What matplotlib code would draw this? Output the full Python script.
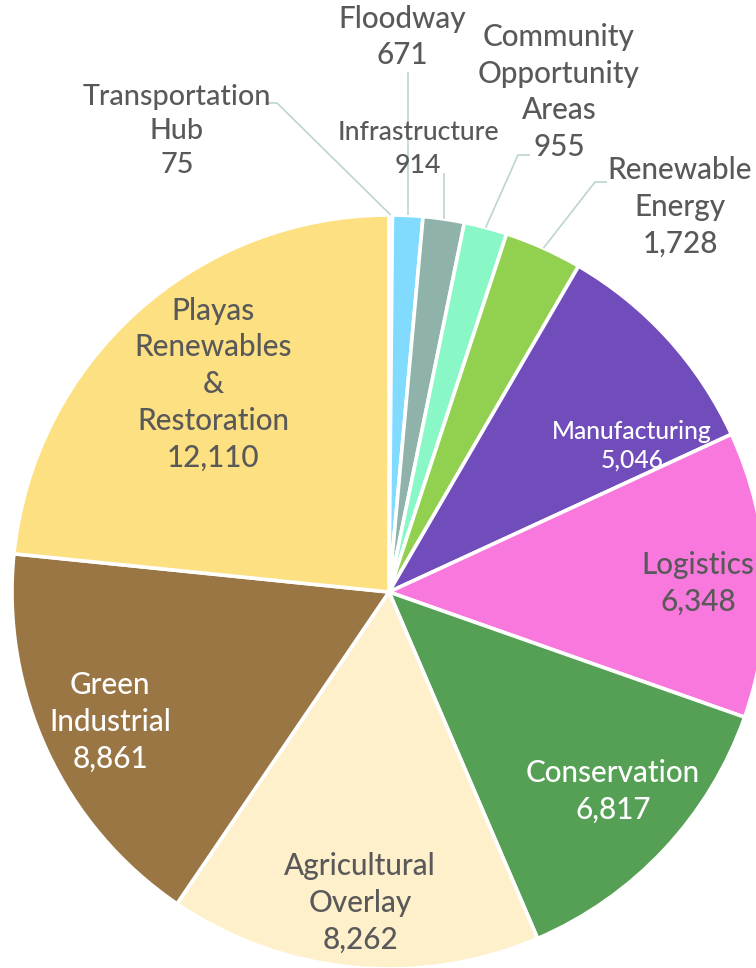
import matplotlib
matplotlib.use("Agg")
import matplotlib.pyplot as plt
import numpy as np

# ---- data ----
categories = ["Transportation Hub", "Floodway", "Infrastructure",
              "Community Opportunity Areas", "Renewable Energy", "Manufacturing",
              "Logistics", "Conservation", "Agricultural Overlay",
              "Green Industrial", "Playas Renewables & Restoration"]
values = [75, 671, 914, 955, 1728, 5046, 6348, 6817, 8262, 8861, 12110]
label_lines = [["Transportation", "Hub"], ["Floodway"], ["Infrastructure"],
               ["Community", "Opportunity", "Areas"], ["Renewable", "Energy"],
               ["Manufacturing"], ["Logistics"], ["Conservation"],
               ["Agricultural", "Overlay"], ["Green", "Industrial"],
               ["Playas", "Renewables", "&", "Restoration"]]
colors = ["#DDEFF5", "#80DBFF", "#8FB3AB", "#8AF8C6", "#92D050", "#704DBB",
          "#F878DE", "#56A056", "#FFF0CC", "#9A7645", "#FDE081"]

# ---- layout (pixel coordinates, y from top) ----
W, H = 756, 968
CX, CY, R = 389, 592, 377
GRAY = "#595959"
label_pos = {
    "Transportation Hub": (177, 131),
    "Floodway": (402, 37),
    "Infrastructure": (418, 149),
    "Community Opportunity Areas": (559, 92),
    "Renewable Energy": (680, 207),
    "Manufacturing": (632, 446),
    "Logistics": (698, 583),
    "Conservation": (613, 791),
    "Agricultural Overlay": (360, 903),
    "Green Industrial": (110, 722),
    "Playas Renewables & Restoration": (213, 384),
}
label_size = {"Transportation Hub": 20.7, "Infrastructure": 19.2, "Manufacturing": 17.7}
label_spacing = {"Manufacturing": 1.32}
white_labels = {"Manufacturing", "Conservation", "Green Industrial"}
# leader paths: bend points (px) from the wedge edge toward the text
leaders = {
    "Transportation Hub": [(277, 103), (268, 103)],
    "Floodway": [("x", 72)],
    "Infrastructure": [("x", 173)],
    "Community Opportunity Areas": [(518, 155), (530, 155)],
    "Renewable Energy": [(595, 182), (607, 182)],
}


def Y(py):
    return H - py


fig = plt.figure(figsize=(W / 100, H / 100), dpi=100)
ax = fig.add_axes([0, 0, 1, 1])
wedges, _ = ax.pie(values, colors=colors, startangle=90, counterclock=False,
                   center=(CX, Y(CY)), radius=R,
                   wedgeprops=dict(edgecolor="white", linewidth=2.6))
ax.set_xlim(0, W)
ax.set_ylim(0, H)
ax.set_aspect("auto")
ax.axis("off")

for name, lines, v, w in zip(categories, label_lines, values, wedges):
    x, y = label_pos[name]
    txt = "\n".join(lines + [f"{v:,}"])
    ax.text(x, Y(y), txt, ha="center", va="center", multialignment="center",
            fontsize=label_size.get(name, 21.3), family="Lato", fontweight="medium",
            color="white" if name in white_labels else GRAY,
            linespacing=label_spacing.get(name, 1.38), zorder=5)
    if name in leaders:
        mid = np.deg2rad((w.theta1 + w.theta2) / 2)
        ex = CX + R * np.cos(mid)
        ey = Y(CY) + R * np.sin(mid)
        xs, ys = [ex], [ey]
        for px, py in leaders[name]:
            xs.append(ex if px == "x" else px)
            ys.append(Y(py))
        ax.plot(xs, ys, color="#BCD5D2", lw=1.2, zorder=1, solid_capstyle="butt")

fig.savefig("out.png", dpi=100)
